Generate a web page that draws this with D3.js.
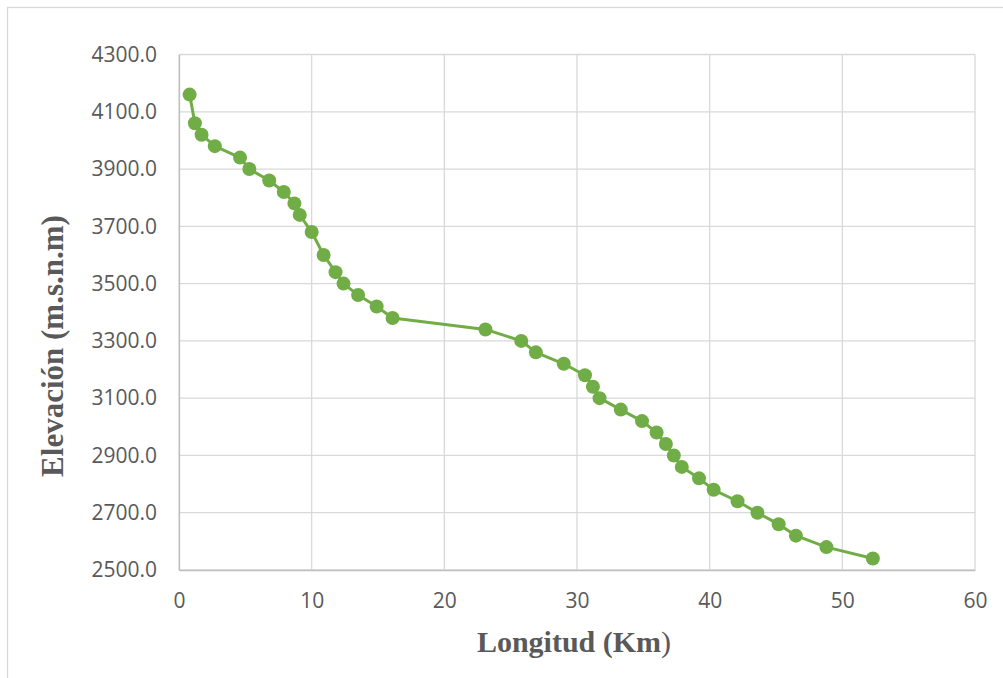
<!DOCTYPE html>
<html>
<head>
<meta charset="utf-8">
<script src="https://cdn.jsdelivr.net/npm/d3@7"></script>
<style>
  body { margin: 0; background: #fff; }
  #chart { width: 1003px; height: 678px; }
  .tick text { font-family: "Open Sans", sans-serif; fill: #595959; }
</style>
</head>
<body>
<div id="chart"></div>
<script>
// longitud acumulada (km) y elevación (m.s.n.m)
let longitudKm = [0.8, 1.2, 1.7, 2.7, 4.6, 5.3, 6.8, 7.9, 8.7, 9.1, 10.0, 10.9, 11.8, 12.4,
    13.5, 14.9, 16.1, 23.1, 25.8, 26.9, 29.0, 30.6, 31.2, 31.7, 33.3, 34.9, 36.0, 36.7,
    37.3, 37.9, 39.2, 40.3, 42.1, 43.6, 45.2, 46.5, 48.8, 52.3];
let elevacion = [4160, 4060, 4020, 3980, 3940, 3900, 3860, 3820, 3780, 3740, 3680, 3600, 3540, 3500,
    3460, 3420, 3380, 3340, 3300, 3260, 3220, 3180, 3140, 3100, 3060, 3020, 2980, 2940,
    2900, 2860, 2820, 2780, 2740, 2700, 2660, 2620, 2580, 2540];
let xTicks = [0, 10, 20, 30, 40, 50, 60];
let yTicks = [2500, 2700, 2900, 3100, 3300, 3500, 3700, 3900, 4100, 4300];

let width = 1003,
    height = 678,
    margin = {left: 179, top: 54.5, right: 28, bottom: 108};

let svg = d3.select('#chart').append('svg')
    .attr('width', width)
    .attr('height', height);

// marco exterior
svg.append('rect')
    .attr('x', 7.5).attr('y', 7.5)
    .attr('width', width).attr('height', height)
    .attr('fill', 'none')
    .attr('stroke', '#d9d9d9')
    .attr('stroke-width', 1.3);

let xScale = d3.scaleLinear()
    .domain([0, 60])
    .range([margin.left, width - margin.right]);

let yScale = d3.scaleLinear()
    .domain([2500, 4300])
    .range([height - margin.bottom, margin.top]);

// rejilla
svg.append('g')
    .attr('class', 'grid-y')
    .selectAll('line')
    .data(yTicks)
    .join('line')
    .attr('x1', xScale(0)).attr('x2', xScale(60))
    .attr('y1', d => yScale(d)).attr('y2', d => yScale(d))
    .attr('stroke', '#d9d9d9')
    .attr('stroke-width', 1.3);

svg.append('g')
    .attr('class', 'grid-x')
    .selectAll('line')
    .data(xTicks)
    .join('line')
    .attr('x1', d => xScale(d)).attr('x2', d => xScale(d))
    .attr('y1', yScale(2500)).attr('y2', yScale(4300))
    .attr('stroke', '#d9d9d9')
    .attr('stroke-width', 1.3);

// ejes
let xAxis = svg.append('g')
    .attr('class', 'x-axis')
    .attr('transform', `translate(0, ${yScale(2500)})`)
    .call(d3.axisBottom(xScale).tickValues(xTicks).tickSize(0).tickPadding(23).tickFormat(d3.format('d')));

let yAxis = svg.append('g')
    .attr('class', 'y-axis')
    .attr('transform', `translate(${xScale(0)}, 0)`)
    .call(d3.axisLeft(yScale).tickValues(yTicks).tickSize(0).tickPadding(22).tickFormat(d3.format('.1f')));

[xAxis, yAxis].forEach(a => {
    a.select('.domain').attr('stroke', '#bfbfbf').attr('stroke-width', 1.3);
    a.selectAll('text').style('font-size', '21px');
});

// línea y puntos
let points = longitudKm.map((d, i) => [d, elevacion[i]]);

svg.append('path')
    .datum(points)
    .attr('fill', 'none')
    .attr('stroke', '#70ad47')
    .attr('stroke-width', 3)
    .attr('stroke-linejoin', 'round')
    .attr('d', d3.line().x(d => xScale(d[0])).y(d => yScale(d[1])));

svg.append('g')
    .attr('class', 'puntos')
    .selectAll('circle')
    .data(points)
    .join('circle')
    .attr('cx', d => xScale(d[0]))
    .attr('cy', d => yScale(d[1]))
    .attr('r', 7)
    .attr('fill', '#70ad47');

// títulos de los ejes
let xTitle = svg.append('text')
    .attr('x', 574)
    .attr('y', 652)
    .attr('text-anchor', 'middle')
    .style('font-family', '"Liberation Serif", serif')
    .style('font-size', '30px')
    .style('font-weight', 'bold')
    .attr('fill', '#595959');
xTitle.append('tspan').text('Longitud (Km');
xTitle.append('tspan').style('font-weight', 'normal').text(')');

svg.append('text')
    .attr('transform', 'translate(63, 346) rotate(-90)')
    .attr('text-anchor', 'middle')
    .style('font-family', '"Liberation Serif", serif')
    .style('font-size', '31px')
    .style('font-weight', 'bold')
    .attr('fill', '#595959')
    .text('Elevación (m.s.n.m)');
</script>
</body>
</html>
